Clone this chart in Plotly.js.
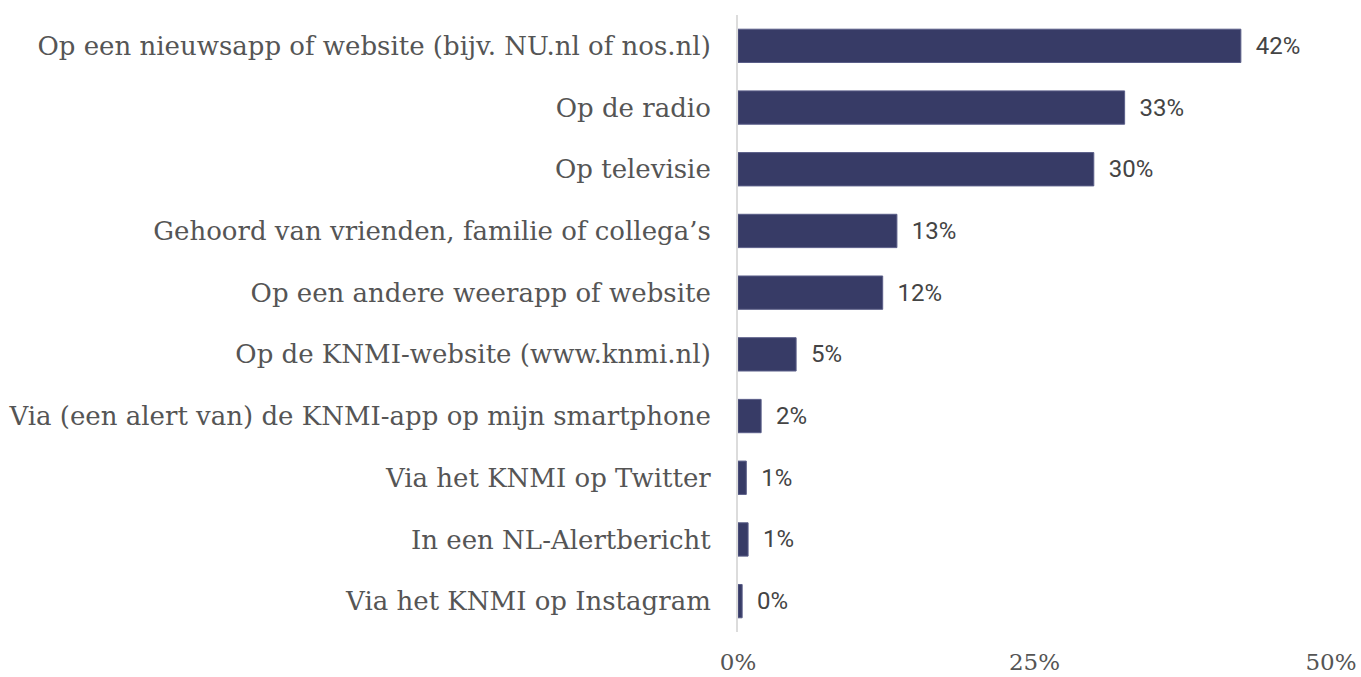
<!DOCTYPE html>
<html><head><meta charset="utf-8">
<script src="https://cdn.plot.ly/plotly-3.0.1.min.js"></script>
<style>body{margin:0;background:#fff}#c{width:1361px;height:677px}</style>
</head><body><div id="c"></div>
<script>
const categories = [
  "Op een nieuwsapp of website (bijv. NU.nl of nos.nl)",
  "Op de radio",
  "Op televisie",
  "Gehoord van vrienden, familie of collega’s",
  "Op een andere weerapp of website",
  "Op de KNMI-website (www.knmi.nl)",
  "Via (een alert van) de KNMI-app op mijn smartphone",
  "Via het KNMI op Twitter",
  "In een NL-Alertbericht",
  "Via het KNMI op Instagram"
];
const values = [42.4, 32.6, 30.0, 13.4, 12.2, 4.9, 1.95, 0.7, 0.85, 0.35];
const valueLabels = ["42%", "33%", "30%", "13%", "12%", "5%", "2%", "1%", "1%", "0%"];
const tickVals = [0, 25, 50];
const tickText = ["0%", "25%", "50%"];

const trace = {
  type: "bar",
  orientation: "h",
  y: categories,
  x: values,
  text: valueLabels.map(t => "  " + t),
  textposition: "outside",
  textfont: {family: "Roboto", size: 24, color: "#444"},
  cliponaxis: false,
  marker: {color: "#373b66", line: {color: "#5a5e88", width: 1}},
  hoverinfo: "skip"
};

const layout = {
  width: 1361, height: 677,
  margin: {l: 738, r: 30, t: 15, b: 45},
  paper_bgcolor: "#fff", plot_bgcolor: "#fff",
  showlegend: false,
  bargap: 0.46,
  xaxis: {
    range: [0, 50], tickvals: tickVals, ticktext: tickText,
    showgrid: false, zeroline: false, showline: false,
    ticks: "outside", ticklen: 9, tickcolor: "rgba(0,0,0,0)",
    ticklabeloverflow: "allow",
    tickfont: {family: "DejaVu Serif", size: 23, color: "#555"}
  },
  yaxis: {
    autorange: "reversed", type: "category",
    showgrid: false, zeroline: false,
    showline: true, linecolor: "#dcdcdc", linewidth: 2,
    ticks: "outside", ticklen: 20, tickcolor: "rgba(0,0,0,0)",
    tickfont: {family: "DejaVu Serif", size: 26, color: "#555"}
  }
};
Plotly.newPlot("c", [trace], layout, {displayModeBar: false, staticPlot: true});
</script></body></html>
